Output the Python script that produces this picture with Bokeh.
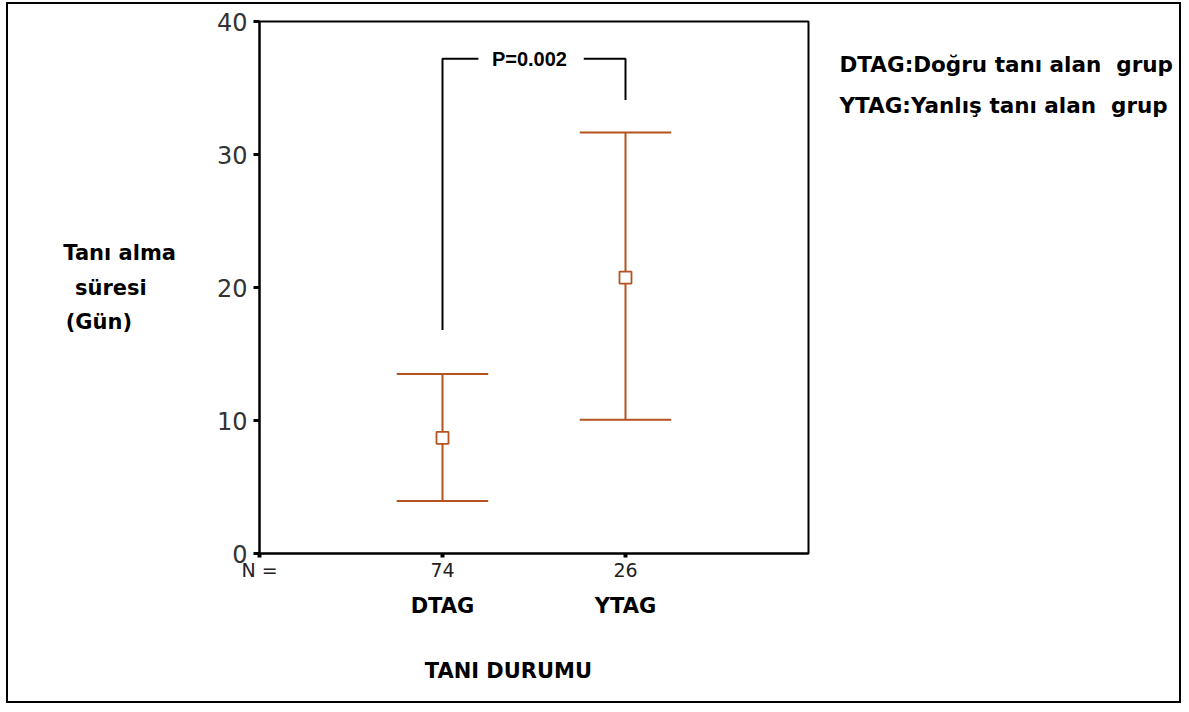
from bokeh.plotting import figure
from bokeh.models import Range1d, FixedTicker, LinearAxis
from bokeh.models import Label
from bokeh.embed import file_html
from bokeh.resources import INLINE

# ---- data ----
categories = ["DTAG", "YTAG"]
n_labels = ["N =", "74", "26"]
n_pos = [0, 1, 2]
cat_pos = [1, 2]
means = [8.7, 20.75]
lower = [3.95, 10.05]
upper = [13.5, 31.65]
y_ticks = [0, 10, 20, 30, 40]
bracket_left_x = [1, 1, 1.196]
bracket_left_y = [16.8, 37.2, 37.2]
bracket_right_x = [1.772, 2, 2]
bracket_right_y = [37.2, 37.2, 34.1]
p_text = "P=0.002"
p_text_pos = [1.475, 37.2]
legend_lines = ["DTAG:Doğru tanı alan\u00a0 grup", "YTAG:Yanlış tanı alan\u00a0 grup"]
legend_y = [36.73, 33.72]
NB = "\u00a0"
y_title = "Tanı alma\nsüresi" + NB * 4 + "\n(Gün)" + NB * 6
x_title = "TANI DURUMU"
x_title_pos = [1.36]

BROWN = "#B45320"
BOLD = "DejaVu Sans"

p = figure(width=1175, height=701,
           x_range=Range1d(0, 3.0), y_range=Range1d(0, 40),
           output_backend="svg", toolbar_location=None,
           min_border_left=251, min_border_right=375,
           min_border_top=17, min_border_bottom=152)
p.styles = {"border": "2px solid black", "margin-left": "6px", "margin-top": "2px"}
p.xgrid.visible = False
p.ygrid.visible = False
p.outline_line_color = "black"
p.outline_line_width = 2
p.background_fill_color = "white"
p.border_fill_color = "white"

# y axis
ya = p.yaxis[0]
ya.ticker = FixedTicker(ticks=y_ticks)
ya.minor_tick_line_color = None
ya.axis_line_color = "black"
ya.axis_line_width = 2
ya.major_tick_line_color = "black"
ya.major_tick_line_width = 3
ya.major_tick_out = 6
ya.major_tick_in = 0
ya.major_label_standoff = 6
ya.major_label_text_font = "DejaVu Sans"
ya.major_label_text_font_size = "24px"
ya.major_label_text_color = "#333333"
ya.axis_label = y_title
ya.axis_label_orientation = "horizontal"
ya.axis_label_standoff = 38
ya.axis_label_text_font = BOLD
ya.axis_label_text_font_style = "bold"
ya.axis_label_text_font_size = "21px"
ya.axis_label_text_color = "black"
ya.axis_label_text_line_height = 1.45

# x axis with N values
xa = p.xaxis[0]
xa.ticker = FixedTicker(ticks=n_pos)
xa.major_label_overrides = {c: n for c, n in zip(n_pos, n_labels)}
xa.minor_tick_line_color = None
xa.axis_line_color = "black"
xa.axis_line_width = 2
xa.major_tick_line_color = "black"
xa.major_tick_line_width = 4
xa.major_tick_out = 4
xa.major_tick_in = 0
xa.major_label_standoff = 1
xa.major_label_text_font = "DejaVu Sans"
xa.major_label_text_font_size = "19px"
xa.major_label_text_color = "#222222"

# second x axis with group names
xa2 = LinearAxis(ticker=FixedTicker(ticks=cat_pos),
                 major_label_overrides={c: n for c, n in zip(cat_pos, categories)})
xa2.axis_line_color = None
xa2.major_tick_line_color = None
xa2.minor_tick_line_color = None
xa2.major_tick_out = 0
xa2.major_tick_in = 0
xa2.major_label_standoff = 10
xa2.major_label_text_font = BOLD
xa2.major_label_text_font_style = "bold"
xa2.major_label_text_font_size = "21px"
xa2.major_label_text_color = "black"
p.add_layout(xa2, "below")

# third x axis carrying the x title
xa3 = LinearAxis(ticker=FixedTicker(ticks=x_title_pos),
                 major_label_overrides={x_title_pos[0]: x_title})
xa3.axis_line_color = None
xa3.major_tick_line_color = None
xa3.minor_tick_line_color = None
xa3.major_tick_out = 0
xa3.major_tick_in = 0
xa3.major_label_standoff = 38
xa3.major_label_text_font = BOLD
xa3.major_label_text_font_style = "bold"
xa3.major_label_text_font_size = "21px"
xa3.major_label_text_color = "black"
p.add_layout(xa3, "below")

# right axis carrying the group explanations
ra = LinearAxis(ticker=FixedTicker(ticks=legend_y),
                major_label_overrides={v: t for v, t in zip(legend_y, legend_lines)})
ra.axis_line_color = None
ra.major_tick_line_color = None
ra.minor_tick_line_color = None
ra.major_tick_out = 0
ra.major_tick_in = 0
ra.major_label_standoff = 31
ra.major_label_text_font = BOLD
ra.major_label_text_font_style = "bold"
ra.major_label_text_font_size = "21.5px"
ra.major_label_text_color = "black"
p.add_layout(ra, "right")

# error bars
p.segment(x0=cat_pos, y0=lower, x1=cat_pos, y1=upper, line_color=BROWN, line_width=2)
cap_x0 = [c - 0.25 for c in cat_pos]
cap_x1 = [c + 0.25 for c in cat_pos]
p.segment(x0=cap_x0, y0=upper, x1=cap_x1, y1=upper, line_color=BROWN, line_width=2)
p.segment(x0=cap_x0, y0=lower, x1=cap_x1, y1=lower, line_color=BROWN, line_width=2)
p.scatter(x=cat_pos, y=means, marker="square", size=12,
          fill_color="white", line_color=BROWN, line_width=1.8)

# significance bracket
p.line(bracket_left_x, bracket_left_y, line_color="black", line_width=2)
p.line(bracket_right_x, bracket_right_y, line_color="black", line_width=2)
p.add_layout(Label(x=p_text_pos[0], y=p_text_pos[1], text=p_text, text_font="Liberation Sans",
                   text_font_style="bold", text_font_size="20px",
                   text_align="center", text_baseline="middle", text_color="black"))

open("out.html", "w").write(file_html(p, INLINE))
